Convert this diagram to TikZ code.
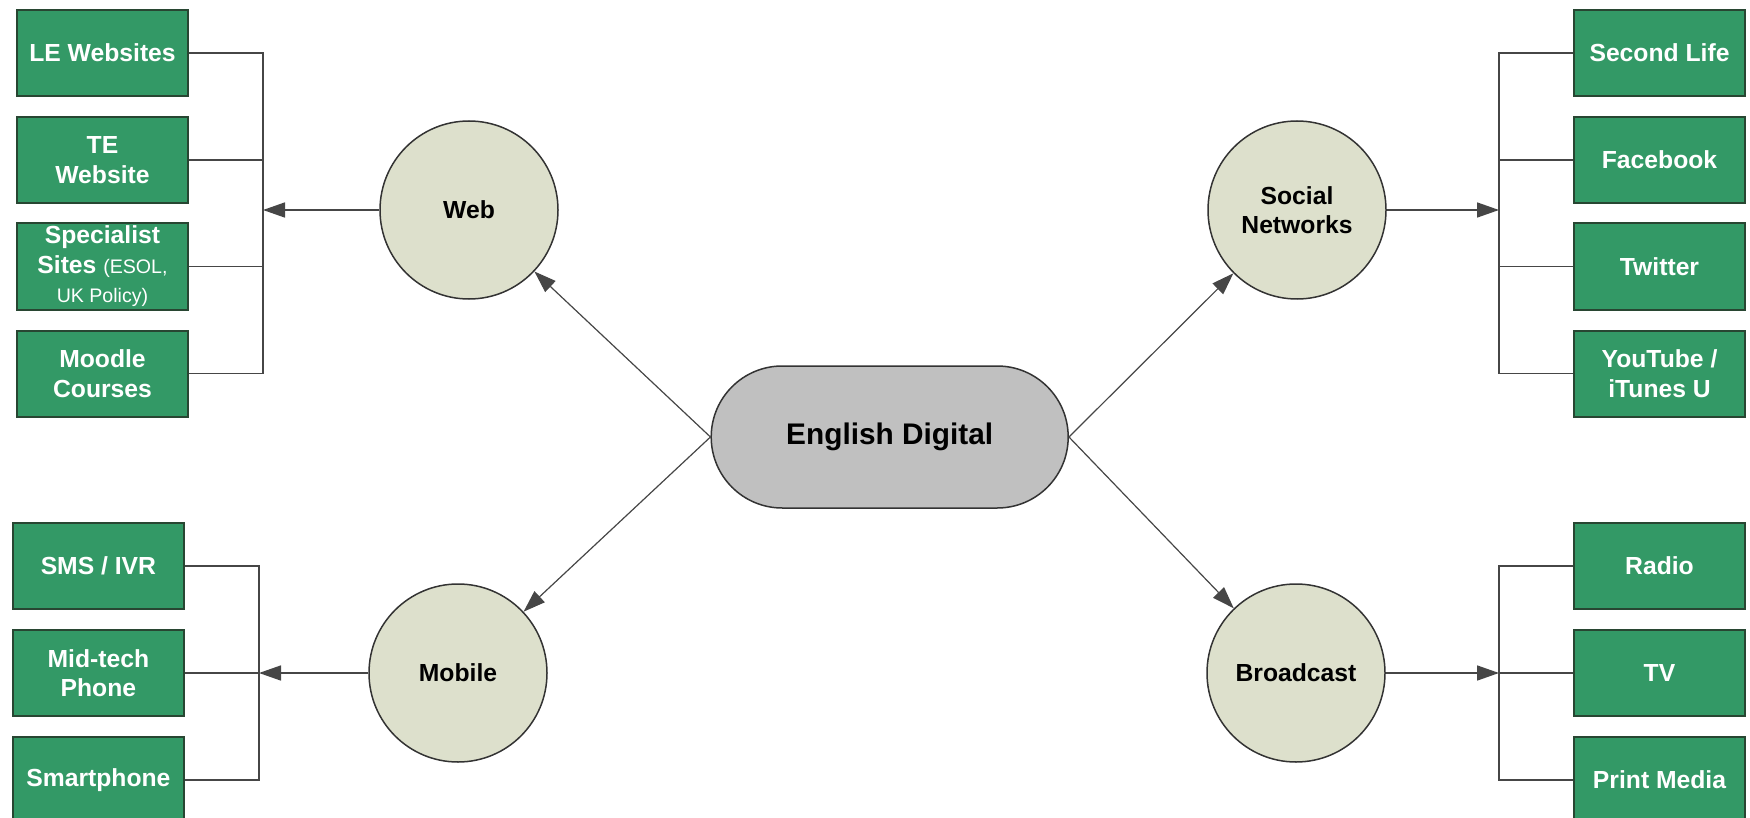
\documentclass[tikz,border=0pt]{standalone}
\usepackage{fontspec}
\setmainfont{Liberation Sans}
\usetikzlibrary{arrows.meta}
\definecolor{boxgreen}{RGB}{51,153,102}
\definecolor{boxborder}{RGB}{40,70,50}
\definecolor{circfill}{RGB}{221,224,204}
\definecolor{centfill}{RGB}{192,192,192}
\definecolor{linegray}{RGB}{70,70,70}
\tikzset{
  gbox/.style={rectangle, fill=boxgreen, draw=boxborder, line width=2pt,
    minimum width=171pt, minimum height=86pt, text=white, align=center, inner sep=0pt,
    font=\bfseries\fontsize{24.7}{29.5}\selectfont},
  hub/.style={circle, fill=circfill, draw=black!80, line width=1.5pt, minimum size=178pt,
    inner sep=0pt, align=center, font=\bfseries\fontsize{24.7}{29.5}\selectfont},
  core/.style={rectangle, rounded corners=71pt, fill=centfill, draw=black!80, line width=1.5pt,
    minimum width=357pt, minimum height=142pt, font=\bfseries\fontsize{29.8}{34}\selectfont},
  conn/.style={draw=linegray, line width=1.6pt},
  arr/.style={conn, -{Triangle[length=22pt,width=15pt]}}
}
\newcommand{\smalltxt}[1]{{\mdseries\fontsize{19.6}{29.5}\selectfont #1}}
\begin{document}
\begin{tikzpicture}[x=1pt,y=-1pt]
\useasboundingbox (0,0) rectangle (1750,818);
% left top boxes
\node[gbox] (le) at (102.5,53) {LE Websites};
\node[gbox] (te) at (102.5,160) {TE\\Website};
\node[gbox] (spec) at (102.5,266.5) {Specialist\\Sites \smalltxt{(ESOL,}\\\smalltxt{UK Policy)}};
\node[gbox] (moodle) at (102.5,373.5) {Moodle\\Courses};
% left bottom boxes
\node[gbox] (sms) at (98.4,566) {SMS / IVR};
\node[gbox] (mid) at (98.4,673) {Mid-tech\\Phone};
\node[gbox] (smart) at (98.4,780) {Smartphone};
% right top boxes
\node[gbox] (sl) at (1659.5,53) {Second Life};
\node[gbox] (fb) at (1659.5,160) {Facebook};
\node[gbox] (tw) at (1659.5,266.5) {Twitter};
\node[gbox] (yt) at (1659.5,373.5) {YouTube /\\iTunes U};
% right bottom boxes
\node[gbox] (radio) at (1659.5,566) {Radio};
\node[gbox] (tv) at (1659.5,673) {TV};
\node[gbox] (print) at (1659.5,780) {Print Media};
% hubs
\node[hub] (web) at (469,210) {Web};
\node[hub] (soc) at (1297,210) {Social\\Networks};
\node[hub] (mob) at (458,673) {Mobile};
\node[hub] (brd) at (1296,673) {Broadcast};
% core
\node[core] (ed) at (889.7,437) {English Digital};
% bus coordinates
\coordinate (bLT) at (263,210);
\coordinate (bLB) at (259,673);
\coordinate (bRT) at (1499,210);
\coordinate (bRB) at (1499,673);
% left top bus
\draw[conn] (le.east) -- (le.east -| bLT) -- (moodle.east -| bLT) -- (moodle.east);
\draw[conn] (te.east) -- (te.east -| bLT);
\draw[conn] (spec.east) -- (spec.east -| bLT);
\draw[arr] (web.west) -- (web.west -| bLT);
% left bottom bus
\draw[conn] (sms.east) -- (sms.east -| bLB) -- (smart.east -| bLB) -- (smart.east);
\draw[conn] (mid.east) -- (mid.east -| bLB);
\draw[arr] (mob.west) -- (mob.west -| bLB);
% right top bus
\draw[conn] (sl.west) -- (sl.west -| bRT) -- (yt.west -| bRT) -- (yt.west);
\draw[conn] (fb.west) -- (fb.west -| bRT);
\draw[conn] (tw.west) -- (tw.west -| bRT);
\draw[arr] (soc.east) -- (soc.east -| bRT);
% right bottom bus
\draw[conn] (radio.west) -- (radio.west -| bRB) -- (print.west -| bRB) -- (print.west);
\draw[conn] (tv.west) -- (tv.west -| bRB);
\draw[arr] (brd.east) -- (brd.east -| bRB);
% core connectors
\draw[arr, line width=1.2pt] (ed.west) -- (web);
\draw[arr, line width=1.2pt] (ed.west) -- (mob);
\draw[arr, line width=1.2pt] (ed.east) -- (soc);
\draw[arr, line width=1.2pt] (ed.east) -- (brd);
\end{tikzpicture}
\end{document}
